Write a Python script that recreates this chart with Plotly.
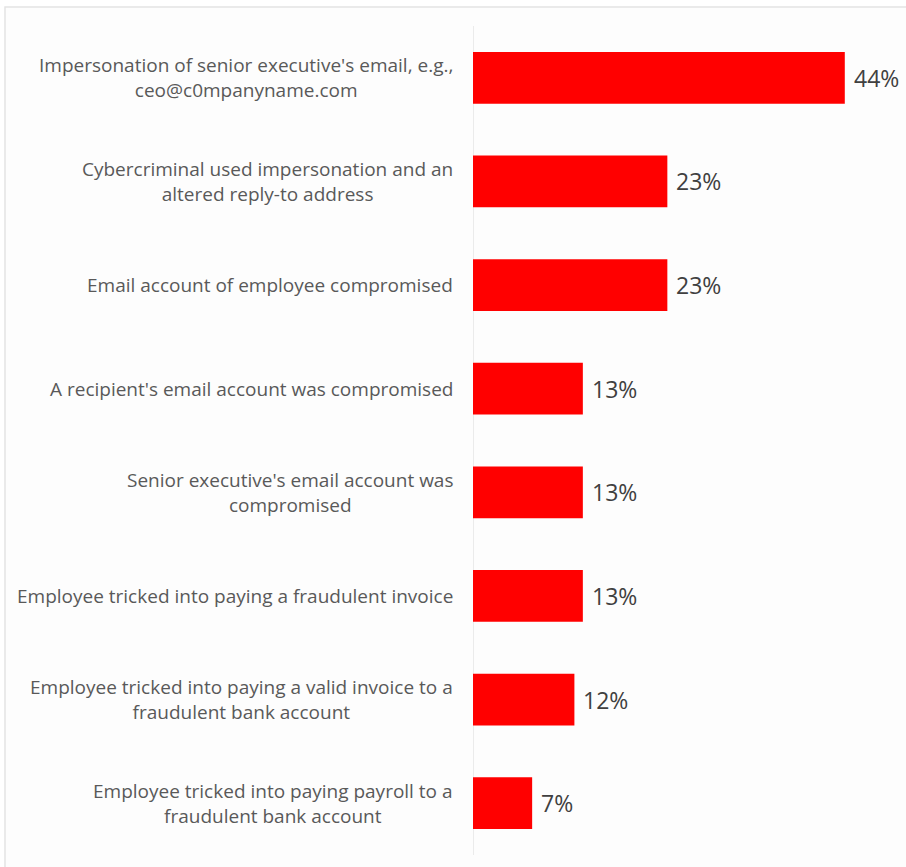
import plotly.graph_objects as go

categories = [
    "Impersonation of senior executive's email, e.g.,<br>ceo@c0mpanyname.com",
    "Cybercriminal used impersonation and an<br>altered reply-to address",
    "Email account of employee compromised",
    "A recipient's email account was compromised",
    "Senior executive's email account was<br>compromised",
    "Employee tricked into paying a fraudulent invoice",
    "Employee tricked into paying a valid invoice to a<br>fraudulent bank account",
    "Employee tricked into paying payroll to a<br>fraudulent bank account",
]
values = [44, 23, 23, 13, 13, 13, 12, 7]
value_labels = [f"{v}%" for v in values]

W, H = 906, 867
L, R, T, B = 473, 6, 26, 12
pw, ph = W - L - R, H - T - B
FONT = "Open Sans, Liberation Sans, Arial, sans-serif"

fig = go.Figure(
    go.Bar(
        x=values,
        y=list(range(len(categories))),
        orientation="h",
        marker=dict(color="#ff0000", line=dict(width=0)),
        width=0.5,
        hoverinfo="skip",
    )
)

# category labels, centred lines, right edge just left of the axis
for i, c in enumerate(categories):
    fig.add_annotation(
        x=0, xref="paper", y=i, yref="y",
        text=c, showarrow=False, xanchor="right", yanchor="middle",
        align="center", xshift=-18,
        font=dict(family=FONT, size=19, color="#595959"),
    )

# value labels just past the end of each bar
for i, (v, t) in enumerate(zip(values, value_labels)):
    fig.add_annotation(
        x=v, xref="x", y=i, yref="y",
        text=t, showarrow=False, xanchor="left", yanchor="middle",
        xshift=7,
        font=dict(family=FONT, size=23, color="#404040"),
    )

# light frame around the chart
fig.add_shape(
    type="rect", xref="paper", yref="paper", layer="below",
    x0=(5 - L) / pw, x1=(W + 5 - L) / pw,
    y0=(T + ph - (H + 5)) / ph, y1=(T + ph - 7) / ph,
    line=dict(color="#e4e4e4", width=1.5), fillcolor="#fdfdfd",
)

fig.update_layout(
    width=W, height=H,
    margin=dict(l=L, r=R, t=T, b=B),
    paper_bgcolor="white", plot_bgcolor="rgba(0,0,0,0)",
    showlegend=False,
    xaxis=dict(range=[0, pw / 8.45], visible=False, fixedrange=True),
    yaxis=dict(
        range=[len(categories) - 0.5, -0.5],
        showticklabels=False, showgrid=False, zeroline=False,
        showline=False, fixedrange=True,
    ),
)

# vertical baseline at zero
fig.add_shape(
    type="line", xref="x", yref="paper", x0=0, x1=0, y0=0, y1=1,
    line=dict(color="#d9d9d9", width=1), layer="below",
)

fig.write_html("out.html")
